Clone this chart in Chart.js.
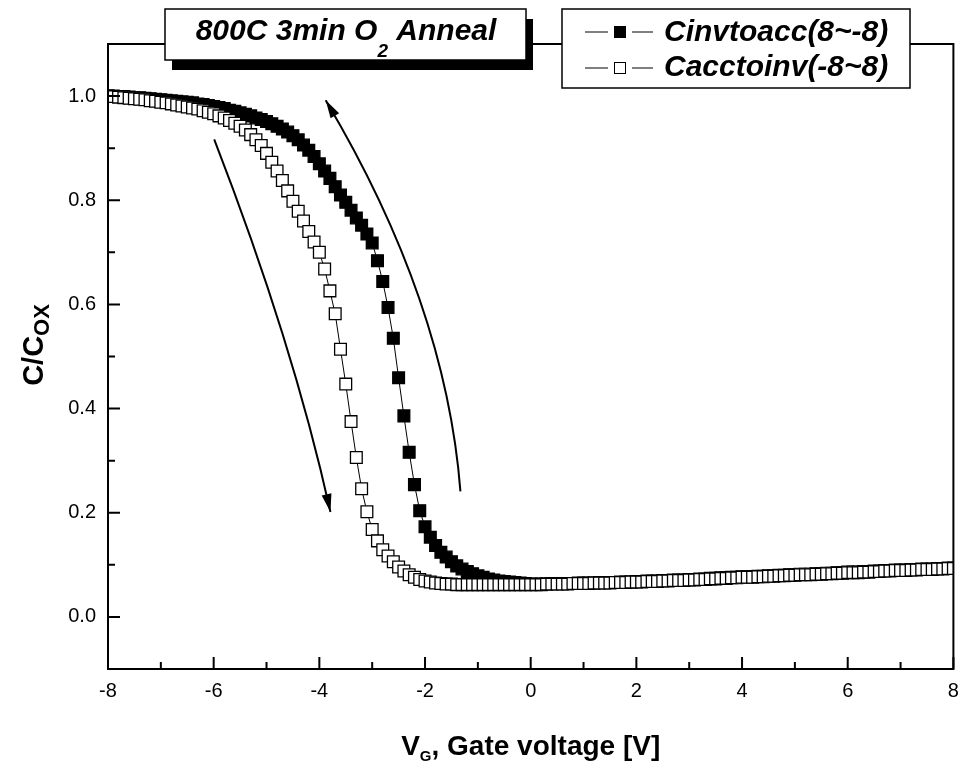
<!DOCTYPE html>
<html><head><meta charset="utf-8">
<script src="https://cdn.jsdelivr.net/npm/chart.js@4.4.1/dist/chart.umd.min.js"></script>
<style>html,body{margin:0;padding:0;background:#fff}#wrap{width:963px;height:765px}</style>
</head><body><div id="wrap"><canvas id="c" width="963" height="765"></canvas></div>
<script>
// Gate voltage sweep points [V]
const voltages = [
-8.0,-7.9,-7.8,-7.7,-7.6,-7.5,-7.4,-7.3,-7.2,-7.1,
-7.0,-6.9,-6.8,-6.7,-6.6,-6.5,-6.4,-6.3,-6.2,-6.1,
-6.0,-5.9,-5.8,-5.7,-5.6,-5.5,-5.4,-5.3,-5.2,-5.1,
-5.0,-4.9,-4.8,-4.7,-4.6,-4.5,-4.4,-4.3,-4.2,-4.1,
-4.0,-3.9,-3.8,-3.7,-3.6,-3.5,-3.4,-3.3,-3.2,-3.1,
-3.0,-2.9,-2.8,-2.7,-2.6,-2.5,-2.4,-2.3,-2.2,-2.1,
-2.0,-1.9,-1.8,-1.7,-1.6,-1.5,-1.4,-1.3,-1.2,-1.1,
-1.0,-0.9,-0.8,-0.7,-0.6,-0.5,-0.4,-0.3,-0.2,-0.1,
0.0,0.1,0.2,0.3,0.4,0.5,0.6,0.7,0.8,0.9,
1.0,1.1,1.2,1.3,1.4,1.5,1.6,1.7,1.8,1.9,
2.0,2.1,2.2,2.3,2.4,2.5,2.6,2.7,2.8,2.9,
3.0,3.1,3.2,3.3,3.4,3.5,3.6,3.7,3.8,3.9,
4.0,4.1,4.2,4.3,4.4,4.5,4.6,4.7,4.8,4.9,
5.0,5.1,5.2,5.3,5.4,5.5,5.6,5.7,5.8,5.9,
6.0,6.1,6.2,6.3,6.4,6.5,6.6,6.7,6.8,6.9,
7.0,7.1,7.2,7.3,7.4,7.5,7.6,7.7,7.8,7.9,
8.0];

// C/Cox, sweep from inversion to accumulation (8 -> -8), filled squares
const cInvToAcc = [
1.000,1.000,0.999,0.999,0.998,0.997,0.997,0.996,0.995,0.994,
0.993,0.992,0.991,0.990,0.989,0.988,0.987,0.985,0.984,0.982,
0.980,0.978,0.976,0.973,0.971,0.968,0.965,0.962,0.958,0.955,
0.951,0.947,0.942,0.937,0.931,0.924,0.916,0.906,0.896,0.884,
0.870,0.856,0.842,0.826,0.810,0.796,0.781,0.766,0.752,0.735,
0.718,0.684,0.644,0.594,0.535,0.459,0.386,0.316,0.254,0.204,
0.173,0.153,0.137,0.124,0.115,0.106,0.098,0.092,0.087,0.083,
0.079,0.076,0.073,0.071,0.069,0.068,0.067,0.066,0.065,0.064,
0.063,0.063,0.063,0.063,0.064,0.064,0.064,0.064,0.064,0.065,
0.065,0.065,0.065,0.066,0.066,0.066,0.066,0.067,0.067,0.067,
0.068,0.068,0.069,0.069,0.069,0.070,0.070,0.071,0.071,0.071,
0.072,0.072,0.073,0.073,0.074,0.074,0.075,0.075,0.076,0.076,
0.077,0.077,0.077,0.078,0.078,0.079,0.079,0.080,0.080,0.081,
0.081,0.082,0.082,0.082,0.083,0.083,0.084,0.084,0.085,0.085,
0.086,0.086,0.086,0.087,0.087,0.088,0.088,0.089,0.089,0.090,
0.090,0.090,0.091,0.091,0.092,0.092,0.092,0.093,0.093,0.094,
0.094];

// C/Cox, sweep from accumulation to inversion (-8 -> 8), open squares
const cAccToInv = [
1.000,0.999,0.998,0.997,0.996,0.995,0.994,0.993,0.991,0.990,
0.988,0.987,0.985,0.983,0.981,0.979,0.977,0.975,0.972,0.969,
0.966,0.962,0.958,0.953,0.948,0.942,0.935,0.926,0.916,0.905,
0.890,0.873,0.856,0.838,0.818,0.798,0.779,0.760,0.740,0.720,
0.700,0.668,0.626,0.582,0.514,0.447,0.375,0.306,0.246,0.202,
0.168,0.146,0.129,0.117,0.106,0.096,0.088,0.081,0.076,0.072,
0.069,0.067,0.065,0.064,0.063,0.063,0.062,0.062,0.062,0.062,
0.062,0.062,0.062,0.062,0.062,0.062,0.062,0.062,0.062,0.062,
0.062,0.062,0.062,0.063,0.063,0.063,0.063,0.063,0.064,0.064,
0.064,0.064,0.065,0.065,0.065,0.065,0.066,0.066,0.066,0.067,
0.067,0.067,0.068,0.068,0.068,0.069,0.069,0.070,0.070,0.070,
0.071,0.071,0.072,0.072,0.073,0.073,0.074,0.074,0.075,0.075,
0.076,0.076,0.076,0.077,0.077,0.078,0.078,0.079,0.079,0.080,
0.080,0.081,0.081,0.081,0.082,0.082,0.083,0.083,0.084,0.084,
0.085,0.085,0.085,0.086,0.086,0.087,0.087,0.088,0.088,0.089,
0.089,0.089,0.090,0.090,0.091,0.091,0.091,0.092,0.092,0.093,
0.093];

const seriesNames = ['Cinvtoacc(8~-8)', 'Cacctoinv(-8~8)'];
const xMajorTicks = [-8,-6,-4,-2,0,2,4,6,8];
const xMinorTicks = [-7,-5,-3,-1,1,3,5,7];
const yMajorTicks = [0.0,0.2,0.4,0.6,0.8,1.0];
const yMinorTicks = [0.1,0.3,0.5,0.7,0.9];
const xRange = [-8, 8];
const yRange = [-0.1, 1.1];

// sweep-direction arrows, in data coordinates: start, control, end (arrowhead at end)
const arrowDown = [[-5.99,0.917],[-4.50,0.527],[-3.79,0.2015]];
const arrowUp   = [[-1.33,0.241],[-1.606,0.604],[-3.88,0.992]];

const FONT = '"Liberation Sans", Arial, sans-serif';

function richWidth(ctx, parts){
  let w=0; for(const p of parts){ctx.font=p.font; w+=ctx.measureText(p.t).width;} return w;
}
function drawRich(ctx, parts, x, y, align){
  const w = richWidth(ctx, parts);
  let cx = align==='center' ? x - w/2 : x;
  for(const p of parts){ ctx.font=p.font; ctx.fillText(p.t, cx, y + (p.dy||0)); cx += ctx.measureText(p.t).width; }
}

const decor = {
  id:'decor',
  afterDraw(chart){
    const ctx = chart.ctx, a = chart.chartArea, xs = chart.scales.x, ys = chart.scales.y;
    ctx.save();
    ctx.strokeStyle='#000'; ctx.fillStyle='#000';
    // frame
    ctx.lineWidth=2;
    ctx.strokeRect(a.left, a.top, a.right-a.left, a.bottom-a.top);
    // inward ticks
    ctx.lineWidth=2;
    ctx.beginPath();
    for(const v of xMajorTicks){const px=xs.getPixelForValue(v); ctx.moveTo(px,a.bottom); ctx.lineTo(px,a.bottom-12);}
    for(const v of xMinorTicks){const px=xs.getPixelForValue(v); ctx.moveTo(px,a.bottom); ctx.lineTo(px,a.bottom-7);}
    for(const v of yMajorTicks){const py=ys.getPixelForValue(v); ctx.moveTo(a.left,py); ctx.lineTo(a.left+12,py);}
    for(const v of yMinorTicks){const py=ys.getPixelForValue(v); ctx.moveTo(a.left,py); ctx.lineTo(a.left+7,py);}
    ctx.stroke();
    // arrows
    for(const arr of [arrowDown, arrowUp]){
      const p = arr.map(q=>[xs.getPixelForValue(q[0]), ys.getPixelForValue(q[1])]);
      ctx.lineWidth=2;
      ctx.beginPath(); ctx.moveTo(p[0][0],p[0][1]); ctx.quadraticCurveTo(p[1][0],p[1][1],p[2][0],p[2][1]); ctx.stroke();
      const dx=p[2][0]-p[1][0], dy=p[2][1]-p[1][1], L=Math.hypot(dx,dy), ux=dx/L, uy=dy/L;
      const len=18, hw=5;
      const bx=p[2][0]-ux*len, by=p[2][1]-uy*len;
      ctx.beginPath(); ctx.moveTo(p[2][0],p[2][1]);
      ctx.lineTo(bx-uy*hw, by+ux*hw); ctx.lineTo(bx+uy*hw, by-ux*hw); ctx.closePath(); ctx.fill();
    }
    // axis titles
    ctx.textBaseline='alphabetic'; ctx.textAlign='left';
    drawRich(ctx, [
      {t:'V', font:'bold 28px '+FONT},
      {t:'G', font:'bold 15px '+FONT, dy:6},
      {t:', Gate voltage [V]', font:'bold 28px '+FONT}
    ], (a.left+a.right)/2, 755, 'center');
    ctx.save();
    ctx.translate(43, 345);
    ctx.rotate(-Math.PI/2);
    drawRich(ctx, [
      {t:'C/C', font:'bold 29px '+FONT},
      {t:'OX', font:'bold 22px '+FONT, dy:6}
    ], 0, 0, 'center');
    ctx.restore();
    // title box
    ctx.fillStyle='#000'; ctx.fillRect(172, 19, 361, 51);
    ctx.fillStyle='#fff'; ctx.fillRect(165, 9, 361, 51);
    ctx.lineWidth=1.5; ctx.strokeRect(165, 9, 361, 51);
    ctx.fillStyle='#000';
    drawRich(ctx, [
      {t:'800C 3min O', font:'italic bold 30px '+FONT},
      {t:'2', font:'italic bold 19px '+FONT, dy:17},
      {t:' Anneal', font:'italic bold 30px '+FONT}
    ], 346, 40, 'center');
    // legend box
    ctx.fillStyle='#fff'; ctx.fillRect(562, 9, 348, 79);
    ctx.lineWidth=1.5; ctx.strokeRect(562, 9, 348, 79);
    const rows = [{y:32, ty:41, fill:'#000', name:seriesNames[0]}, {y:68, ty:76, fill:'#fff', name:seriesNames[1]}];
    for(const r of rows){
      ctx.lineWidth=1; ctx.strokeStyle='#000';
      ctx.beginPath(); ctx.moveTo(585, r.y); ctx.lineTo(608, r.y); ctx.moveTo(632, r.y); ctx.lineTo(653, r.y); ctx.stroke();
      ctx.fillStyle=r.fill; ctx.fillRect(614.5, r.y-5.5, 11, 11);
      ctx.strokeRect(614.5, r.y-5.5, 11, 11);
      ctx.fillStyle='#000';
      ctx.font='italic bold 30px '+FONT;
      ctx.fillText(r.name, 664, r.ty);
    }
    ctx.restore();
  }
};

new Chart(document.getElementById('c').getContext('2d'), {
  type:'scatter',
  data:{ datasets:[
    { label:seriesNames[0], data:voltages.map((v,i)=>({x:v,y:cInvToAcc[i]})), showLine:true,
      borderColor:'#000', borderWidth:1, pointStyle:'rect', pointRadius:8.3, pointHoverRadius:8.3,
      pointBackgroundColor:'#000', pointBorderColor:'#000', pointBorderWidth:1.3, order:1 },
    { label:seriesNames[1], data:voltages.map((v,i)=>({x:v,y:cAccToInv[i]})), showLine:true,
      borderColor:'#000', borderWidth:1, pointStyle:'rect', pointRadius:8.3, pointHoverRadius:8.3,
      pointBackgroundColor:'#fff', pointBorderColor:'#000', pointBorderWidth:1.3, order:0 }
  ]},
  options:{
    responsive:false, animation:false, devicePixelRatio:1,
    layout:{padding:{left:0,right:8,top:44,bottom:0}},
    plugins:{legend:{display:false}, tooltip:{enabled:false}, title:{display:false}},
    events:[],
    scales:{
      x:{ type:'linear', min:xRange[0], max:xRange[1],
        afterFit(s){ s.height = 96; s.paddingLeft = 0; s.paddingRight = 0; },
        afterBuildTicks(s){ s.ticks = xMajorTicks.map(v=>({value:v})); },
        grid:{display:false, drawTicks:false}, border:{display:false},
        ticks:{ color:'#000', font:{family:FONT, size:20}, padding:10, maxRotation:0, autoSkip:false,
          callback:v=>String(v) } },
      y:{ type:'linear', min:yRange[0], max:yRange[1],
        afterFit(s){ s.width = 108; s.paddingTop = 0; s.paddingBottom = 0; },
        afterBuildTicks(s){ s.ticks = yMajorTicks.map(v=>({value:v})); },
        grid:{display:false, drawTicks:false}, border:{display:false},
        ticks:{ color:'#000', font:{family:FONT, size:20}, padding:12, autoSkip:false,
          callback:v=>Number(v).toFixed(1) } }
    }
  },
  plugins:[decor]
});
</script></body></html>
